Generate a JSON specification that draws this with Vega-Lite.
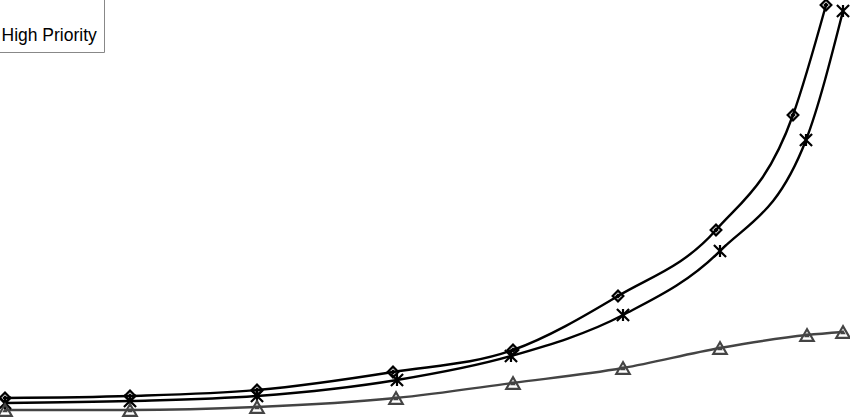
{
  "$schema": "https://vega.github.io/schema/vega-lite/v6.json",
  "width": 850,
  "height": 418,
  "autosize": "none",
  "padding": 0,
  "background": "white",
  "data": {
    "values": [
      {"priority": "Low Priority", "load": 5, "delay": 20},
      {"priority": "Low Priority", "load": 130, "delay": 22},
      {"priority": "Low Priority", "load": 257, "delay": 28},
      {"priority": "Low Priority", "load": 393, "delay": 46},
      {"priority": "Low Priority", "load": 513, "delay": 68},
      {"priority": "Low Priority", "load": 618, "delay": 122},
      {"priority": "Low Priority", "load": 716, "delay": 188},
      {"priority": "Low Priority", "load": 793, "delay": 303},
      {"priority": "Low Priority", "load": 826, "delay": 413},
      {"priority": "Medium Priority", "load": 5, "delay": 15},
      {"priority": "Medium Priority", "load": 130, "delay": 17},
      {"priority": "Medium Priority", "load": 257, "delay": 22},
      {"priority": "Medium Priority", "load": 397, "delay": 38},
      {"priority": "Medium Priority", "load": 511, "delay": 62},
      {"priority": "Medium Priority", "load": 623, "delay": 103},
      {"priority": "Medium Priority", "load": 720, "delay": 167},
      {"priority": "Medium Priority", "load": 806, "delay": 278},
      {"priority": "Medium Priority", "load": 843, "delay": 407},
      {"priority": "High Priority", "load": 5, "delay": 8},
      {"priority": "High Priority", "load": 130, "delay": 8},
      {"priority": "High Priority", "load": 257, "delay": 11},
      {"priority": "High Priority", "load": 396, "delay": 20},
      {"priority": "High Priority", "load": 513, "delay": 35},
      {"priority": "High Priority", "load": 623, "delay": 50},
      {"priority": "High Priority", "load": 720, "delay": 70},
      {"priority": "High Priority", "load": 807, "delay": 83},
      {"priority": "High Priority", "load": 843, "delay": 86}
    ]
  },
  "encoding": {
    "x": {"field": "load", "type": "quantitative", "scale": {"domain": [0, 850]}, "axis": null},
    "y": {"field": "delay", "type": "quantitative", "scale": {"domain": [0, 418]}, "axis": null},
    "color": {
      "field": "priority",
      "type": "nominal",
      "scale": {"domain": ["Low Priority", "Medium Priority", "High Priority"], "range": ["#000000", "#000000", "#444444"]},
      "legend": {
        "orient": "none",
        "legendX": -27,
        "legendY": -178,
        "title": null,
        "fillColor": "white",
        "strokeColor": "#888888",
        "padding": 7,
        "rowPadding": 80,
        "labelLimit": 96,
        "labelExpr": "datum.label == 'High Priority' ? datum.label : ''",
        "labelFont": "Liberation Sans",
        "labelFontSize": 17.5,
        "labelColor": "black"
      }
    },
    "shape": {
      "field": "priority",
      "type": "nominal",
      "scale": {"domain": ["Low Priority", "Medium Priority", "High Priority"], "range": ["diamond", "M-1,-1L1,1M-1,1L1,-1M0,-1L0,1", "triangle-up"]}
    }
  },
  "layer": [
    {"mark": {"type": "line", "interpolate": "monotone", "strokeWidth": 2.4}},
    {
      "mark": {"type": "point", "filled": false, "strokeWidth": 2.2, "opacity": 1},
      "encoding": {
        "size": {
          "field": "priority",
          "type": "nominal",
          "scale": {"domain": ["Low Priority", "Medium Priority", "High Priority"], "range": [115, 180, 160]},
          "legend": null
        }
      }
    }
  ],
  "config": {"view": {"stroke": null}}
}
